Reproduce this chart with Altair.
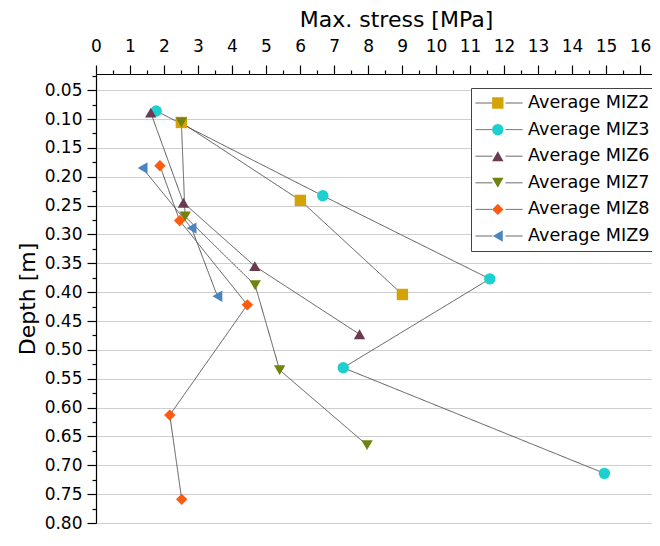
import altair as alt
import pandas as pd

# ---- data ----
series_names = ["Average MIZ2", "Average MIZ3", "Average MIZ6",
                "Average MIZ7", "Average MIZ8", "Average MIZ9"]

miz2_stress = [2.51, 6.01, 9.01]
miz2_depth = [0.106, 0.241, 0.404]
miz3_stress = [1.77, 6.67, 11.58, 7.27, 14.95]
miz3_depth = [0.086, 0.233, 0.377, 0.531, 0.714]
miz6_stress = [1.61, 2.57, 4.67, 7.75]
miz6_depth = [0.089, 0.245, 0.355, 0.473]
miz7_stress = [2.51, 2.62, 4.68, 5.40, 7.97]
miz7_depth = [0.106, 0.269, 0.388, 0.535, 0.665]
miz8_stress = [1.88, 2.46, 4.45, 2.17, 2.52]
miz8_depth = [0.181, 0.276, 0.422, 0.613, 0.759]
miz9_stress = [1.37, 2.81, 3.57]
miz9_depth = [0.185, 0.289, 0.407]

series_colors = ["#D4A306", "#1ECFD0", "#6A3B50", "#72820E", "#FF5B0E", "#4A85BF"]
series_shapes = ["square", "circle", "triangle-up", "triangle-down", "diamond", "triangle-left"]

x_tick_values = [i * 0.5 for i in range(0, 33)]          # 0 .. 16, minor every 0.5
y_tick_values = [round(i * 0.025, 3) for i in range(1, 33)]  # 0.025 .. 0.80

all_series = [
    (miz2_stress, miz2_depth), (miz3_stress, miz3_depth), (miz6_stress, miz6_depth),
    (miz7_stress, miz7_depth), (miz8_stress, miz8_depth), (miz9_stress, miz9_depth),
]

rows = []
for name, (xs, ys) in zip(series_names, all_series):
    for i, (xv, yv) in enumerate(zip(xs, ys)):
        rows.append({"series": name, "series_line": name, "stress": xv, "depth": yv, "idx": i})
df = pd.DataFrame(rows)

FONT = "DejaVu Sans"
PLOT_W = 556
PLOT_H = 449

x_scale = alt.Scale(domain=[0, 16.35], nice=False, zero=False)
y_scale = alt.Scale(domain=[0.022, 0.80], nice=False, zero=False, reverse=True)

x_axis = alt.Axis(
    orient="top", title="Max. stress [MPa]", values=x_tick_values,
    labelExpr="datum.value % 1 === 0 ? format(datum.value, 'd') : ''",
    tickSize={"condition": {"test": "datum.value % 1 !== 0", "value": 4}, "value": 9},
    grid=False, labelPadding=10, titlePadding=6, labelFlush=False,
    titleX=300, titleAnchor="middle", titleAlign="center",
)
y_axis = alt.Axis(
    title="Depth [m]", values=y_tick_values,
    labelExpr="round(datum.value * 40) % 2 === 0 ? format(datum.value, '.2f') : ''",
    tickSize={"condition": {"test": "round(datum.value * 40) % 2 === 1", "value": 4}, "value": 9},
    grid=True, gridColor="#cfcfcf", gridWidth=1,
    gridOpacity={"condition": {"test": "round(datum.value * 40) % 2 === 1", "value": 0}, "value": 1},
    labelPadding=5, titlePadding=5, labelFlush=False,
)

x_enc = alt.X("stress:Q", scale=x_scale, axis=x_axis)
y_enc = alt.Y("depth:Q", scale=y_scale, axis=y_axis)

line_legend = alt.Legend(
    title=None, orient="none", legendX=375, legendY=14, padding=4,
    strokeColor="#444444", fillColor="white",
    symbolType="M-1,0H-0.28M0.28,0H1", symbolSize=2209,
    symbolStrokeColor="#555555", symbolStrokeWidth=1,
    labelFont=FONT, labelFontSize=17.6, labelColor="black", labelOffset=5,
    clipHeight=22, rowPadding=4.6, labelLimit=400,
)

point_legend = alt.Legend(
    title=None, orient="none", legendX=389, legendY=14, padding=4,
    symbolSize=130, symbolStrokeWidth=0, symbolOpacity=1,
    labelExpr="''", labelFontSize=17.6, labelFont=FONT,
    clipHeight=22, rowPadding=4.6,
)

lines = alt.Chart(df).mark_line(color="#555555", strokeWidth=1).encode(
    x=x_enc, y=y_enc, order="idx:Q",
    strokeDash=alt.StrokeDash(
        "series_line:N",
        scale=alt.Scale(range=[[1, 0]] * 6),
        legend=line_legend,
    ),
)

points = alt.Chart(df).mark_point(filled=True, size=130, opacity=1).encode(
    x=x_enc, y=y_enc,
    color=alt.Color("series:N", scale=alt.Scale(domain=series_names, range=series_colors),
                    legend=point_legend),
    shape=alt.Shape("series:N", scale=alt.Scale(domain=series_names, range=series_shapes),
                    legend=point_legend),
)

chart = alt.layer(lines, points).properties(
    width=PLOT_W, height=PLOT_H,
    autosize=alt.AutoSizeParams(type="none"),
    padding={"left": 88, "top": 66, "right": 0, "bottom": 9},
).configure_view(strokeWidth=0).configure_axis(
    labelFont=FONT, titleFont=FONT, labelFontSize=17, titleFontSize=22,
    titleFontWeight="normal", labelColor="black", titleColor="black",
    domainColor="black", tickColor="black", domainWidth=1.2, tickWidth=1.2,
)

chart.save("out.html", embed_options={"renderer": "svg", "actions": False})
